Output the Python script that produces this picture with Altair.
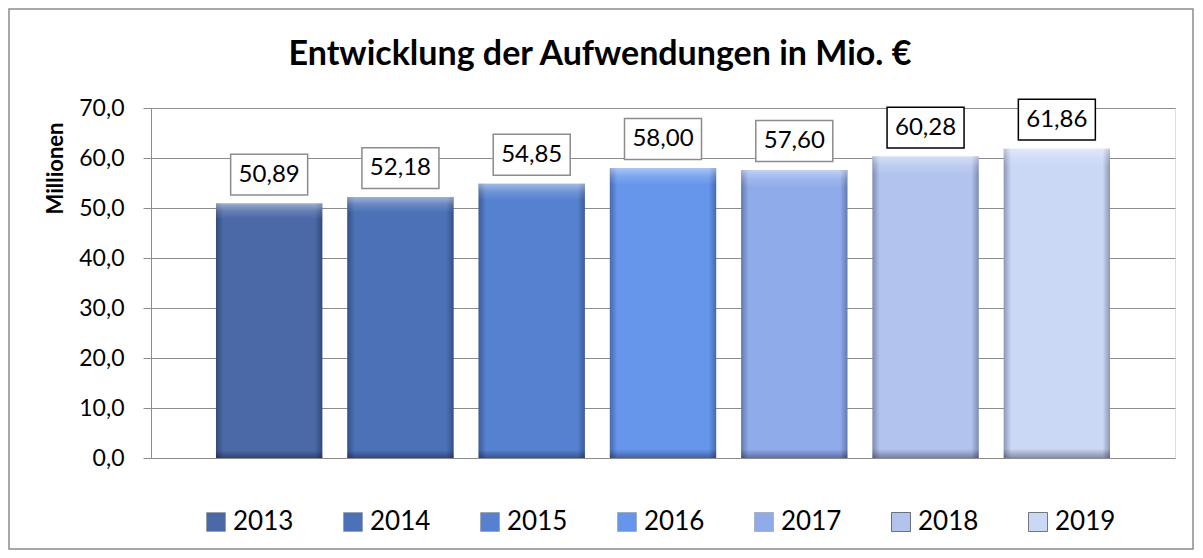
import altair as alt
import pandas as pd

years = ["2013", "2014", "2015", "2016", "2017", "2018", "2019"]
values = [50.89, 52.18, 54.85, 58.00, 57.60, 60.28, 61.86]
bar_colors = ["#4a69a6", "#4c71b6", "#5681d0", "#6596ec", "#8fabea", "#b2c4ee", "#cad7f5"]
box_strokes = ["#8c8c8c", "#8c8c8c", "#8c8c8c", "#8c8c8c", "#8c8c8c", "#000000", "#000000"]
y_ticks = [0, 10, 20, 30, 40, 50, 60, 70]

df = pd.DataFrame({"year": years, "value": values})

FONT = "Lato"
GRID = "#8c8c8c"

x_enc = alt.X("year:N", sort=years,
              scale=alt.Scale(domain=years, paddingInner=0.19, paddingOuter=0.495),
              axis=None)
y_scale = alt.Scale(domain=[0, 70], nice=False)

base = alt.Chart(df)

bars = base.mark_bar().encode(
    x=x_enc,
    y=alt.Y("value:Q", scale=y_scale,
            axis=alt.Axis(values=y_ticks, title="Millionen",
                          labelExpr="replace(format(datum.value, '.1f'), '.', ',')",
                          labelFont=FONT, labelFontSize=23, labelColor="#000000",
                          labelPadding=19, tickSize=8, tickColor=GRID,
                          domainColor=GRID, gridColor=GRID, gridWidth=1,
                          titleFont=FONT, titleFontSize=22, titleFontWeight="bold",
                          titleColor="#000000", titleAngle=-90, titleX=-96, titleY=60,
                          titleAlign="center", titleBaseline="middle")),
    color=alt.Color("year:N", sort=years,
                    scale=alt.Scale(domain=years, range=bar_colors),
                    legend=alt.Legend(title=None, orient="none", direction="horizontal",
                                      columns=7, legendX=52, legendY=401,
                                      symbolType="square", symbolSize=361,
                                      symbolStrokeColor="#5a6a8a", symbolStrokeWidth=0.5,
                                      labelFont=FONT, labelFontSize=26, labelColor="#000000",
                                      labelOffset=4, columnPadding=46)),
)

shade_h = base.mark_bar(fill=alt.Gradient(
    gradient="linear", x1=0, x2=1, y1=0, y2=0,
    stops=[alt.GradientStop(color="rgba(0,0,30,0.30)", offset=0),
           alt.GradientStop(color="rgba(0,0,30,0.0)", offset=0.07),
           alt.GradientStop(color="rgba(0,0,30,0.0)", offset=0.93),
           alt.GradientStop(color="rgba(0,0,30,0.30)", offset=1)])).encode(
    x=x_enc, y=alt.Y("value:Q", scale=y_scale))

shade_v = base.mark_bar(fill=alt.Gradient(
    gradient="linear", x1=0, x2=0, y1=0, y2=1,
    stops=[alt.GradientStop(color="rgba(255,255,255,0.45)", offset=0),
           alt.GradientStop(color="rgba(255,255,255,0.15)", offset=0.03),
           alt.GradientStop(color="rgba(255,255,255,0.0)", offset=0.06),
           alt.GradientStop(color="rgba(0,0,30,0.0)", offset=0.97),
           alt.GradientStop(color="rgba(0,0,30,0.35)", offset=1)])).encode(
    x=x_enc, y=alt.Y("value:Q", scale=y_scale))

boxes = base.mark_point(
    shape="M-1,-0.53L1,-0.53L1,0.53L-1,0.53Z", size=5929, filled=False,
    fill="white", fillOpacity=1, strokeWidth=1.5, opacity=1, yOffset=-29).encode(
    x=x_enc, y=alt.Y("value:Q", scale=y_scale),
    stroke=alt.Stroke("year:N", sort=years,
                      scale=alt.Scale(domain=years, range=box_strokes), legend=None))

labels = base.transform_calculate(
    lbl="replace(format(datum.value, '.2f'), '.', ',')"
).mark_text(font=FONT, fontSize=24, color="#000000", baseline="middle",
            align="center", yOffset=-29).encode(
    x=x_enc, y=alt.Y("value:Q", scale=y_scale), text="lbl:N")

frame = alt.Chart(alt.Data(values=[{"a": 1}])).mark_rect(
    fill=None, stroke="#8c8c8c", strokeWidth=1.5).encode(
    x=alt.value(-142), x2=alt.value(1042), y=alt.value(-99), y2=alt.value(441))

chart = alt.layer(frame, bars, shade_h, shade_v, boxes, labels).properties(
    width=1024, height=350,
    title=alt.TitleParams("Entwicklung der Aufwendungen in Mio. €", font=FONT,
                          fontSize=34, fontWeight="bold", color="#000000",
                          anchor="middle", dx=-63, frame="group",
                          baseline="alphabetic", offset=0, dy=91),
    autosize=alt.AutoSizeParams(type="none"),
    padding={"left": 143, "top": 100, "right": 20, "bottom": 92},
).configure_view(stroke=None).configure(background="white")

chart.save("out.html", embed_options={"renderer": "svg", "actions": False})
